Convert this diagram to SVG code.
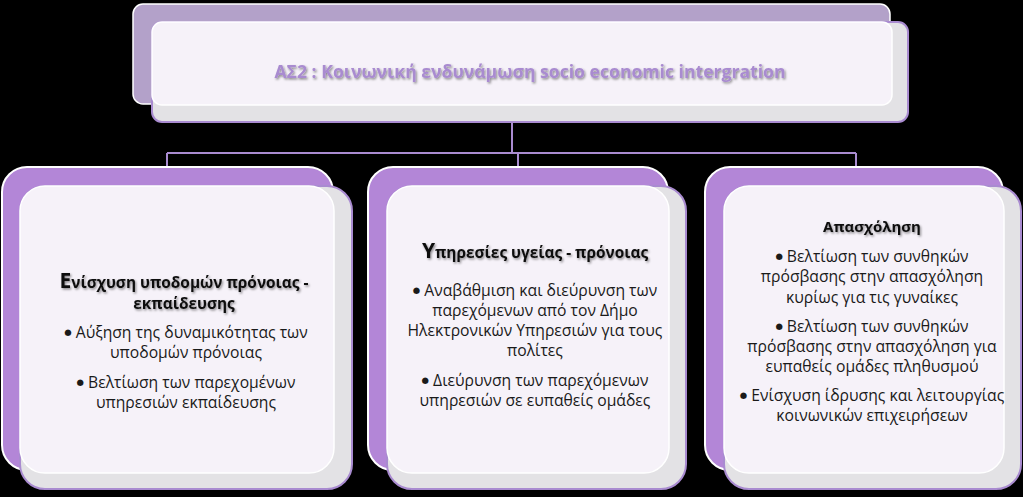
<svg xmlns="http://www.w3.org/2000/svg" width="1023" height="497" viewBox="0 0 1023 497">
<defs>
<filter id="ts" x="-10%" y="-30%" width="120%" height="160%">
<feDropShadow dx="1.2" dy="1.5" stdDeviation="0.8" flood-color="#000" flood-opacity="0.45"/>
</filter>
<style>
.bg{fill:#000}
.backTop{fill:#b3a1c9;stroke:#ffffff;stroke-width:1.5}
.backBox{fill:#b386d7;stroke:#ffffff;stroke-width:2}
.outer{fill:#e3e2e5;stroke:#a98bd0;stroke-width:2}
.inner{fill:#f6f2f9;stroke:#ffffff;stroke-width:1.5}
.conn{fill:none;stroke:#a98bd0;stroke-width:2}
.head{font-family:"Open Sans","Liberation Sans",sans-serif;font-weight:bold;text-anchor:middle}
.body{font-family:"Open Sans","Liberation Sans",sans-serif;font-size:15.7px;fill:#1a1a1a;text-anchor:middle}
.bl{font-family:"DejaVu Sans",sans-serif;font-size:8.5px}
</style>
</defs>
<rect class="bg" x="0" y="0" width="1023" height="497"/>

<g id="connectors">
<path class="conn" d="M512,122 V153 M167,153 H856 M167,153 V170 M518,153 V170 M856,153 V170"/>
</g>

<g id="node-top">
<rect class="backTop" x="133" y="4" width="757" height="100" rx="10"/>
<rect class="outer" x="152" y="22" width="756" height="100" rx="10"/>
<rect class="inner" x="152" y="22" width="740" height="83" rx="10"/>
<text class="head" x="530" y="78" font-size="17.6" fill="#a98bd0" filter="url(#ts)">ΑΣ2 : Κοινωνική ενδυνάμωση socio economic intergration</text>
</g>

<g id="node-left">
<rect class="backBox" x="2" y="167" width="331" height="303" rx="25"/>
<rect class="outer" x="20" y="186" width="332" height="303" rx="25"/>
<rect class="inner" x="20" y="186" width="314" height="287" rx="25"/>
<text class="head" x="184" y="288" font-size="15.4" fill="#111" filter="url(#ts)"><tspan font-size="21">Ε</tspan>νίσχυση υποδομών πρόνοιας -</text>
<text class="head" x="184" y="309" font-size="15.4" fill="#111" filter="url(#ts)">εκπαίδευσης</text>
<text class="body" x="186" y="338"><tspan class="bl" dy="-3.5">●</tspan><tspan dy="3.5"> Αύξηση της δυναμικότητας των</tspan></text>
<text class="body" x="186" y="358">υποδομών πρόνοιας</text>
<text class="body" x="186" y="388"><tspan class="bl" dy="-3.5">●</tspan><tspan dy="3.5"> Βελτίωση των παρεχομένων</tspan></text>
<text class="body" x="186" y="408">υπηρεσιών εκπαίδευσης</text>
</g>

<g id="node-middle">
<rect class="backBox" x="368" y="167" width="300" height="303" rx="25"/>
<rect class="outer" x="387" y="186" width="299" height="303" rx="25"/>
<rect class="inner" x="387" y="186" width="282" height="287" rx="25"/>
<text class="head" x="535" y="258" font-size="15.4" fill="#111" filter="url(#ts)"><tspan font-size="21">Υ</tspan>πηρεσίες υγείας - πρόνοιας</text>
<text class="body" x="535" y="296"><tspan class="bl" dy="-3.5">●</tspan><tspan dy="3.5"> Αναβάθμιση και διεύρυνση των</tspan></text>
<text class="body" x="535" y="316">παρεχόμενων από τον Δήμο</text>
<text class="body" x="535" y="336">Ηλεκτρονικών Υπηρεσιών για τους</text>
<text class="body" x="535" y="356">πολίτες</text>
<text class="body" x="535" y="386"><tspan class="bl" dy="-3.5">●</tspan><tspan dy="3.5"> Διεύρυνση των παρεχόμενων</tspan></text>
<text class="body" x="535" y="406">υπηρεσιών σε ευπαθείς ομάδες</text>
</g>

<g id="node-right">
<rect class="backBox" x="705" y="167" width="298" height="303" rx="25"/>
<rect class="outer" x="724" y="186" width="297" height="303" rx="25"/>
<rect class="inner" x="724" y="186" width="280" height="287" rx="25"/>
<text class="head" x="872" y="232" font-size="15" fill="#111" filter="url(#ts)">Απασχόληση</text>
<text class="body" x="872" y="262"><tspan class="bl" dy="-3.5">●</tspan><tspan dy="3.5"> Βελτίωση των συνθηκών</tspan></text>
<text class="body" x="872" y="282">πρόσβασης στην απασχόληση</text>
<text class="body" x="872" y="303">κυρίως για τις γυναίκες</text>
<text class="body" x="872" y="332"><tspan class="bl" dy="-3.5">●</tspan><tspan dy="3.5">  Βελτίωση των συνθηκών</tspan></text>
<text class="body" x="872" y="352">πρόσβασης στην απασχόληση για</text>
<text class="body" x="872" y="372">ευπαθείς ομάδες πληθυσμού</text>
<text class="body" x="872" y="401"><tspan class="bl" dy="-3.5">●</tspan><tspan dy="3.5"> Ενίσχυση ίδρυσης και λειτουργίας</tspan></text>
<text class="body" x="872" y="421">κοινωνικών επιχειρήσεων</text>
</g>
</svg>
